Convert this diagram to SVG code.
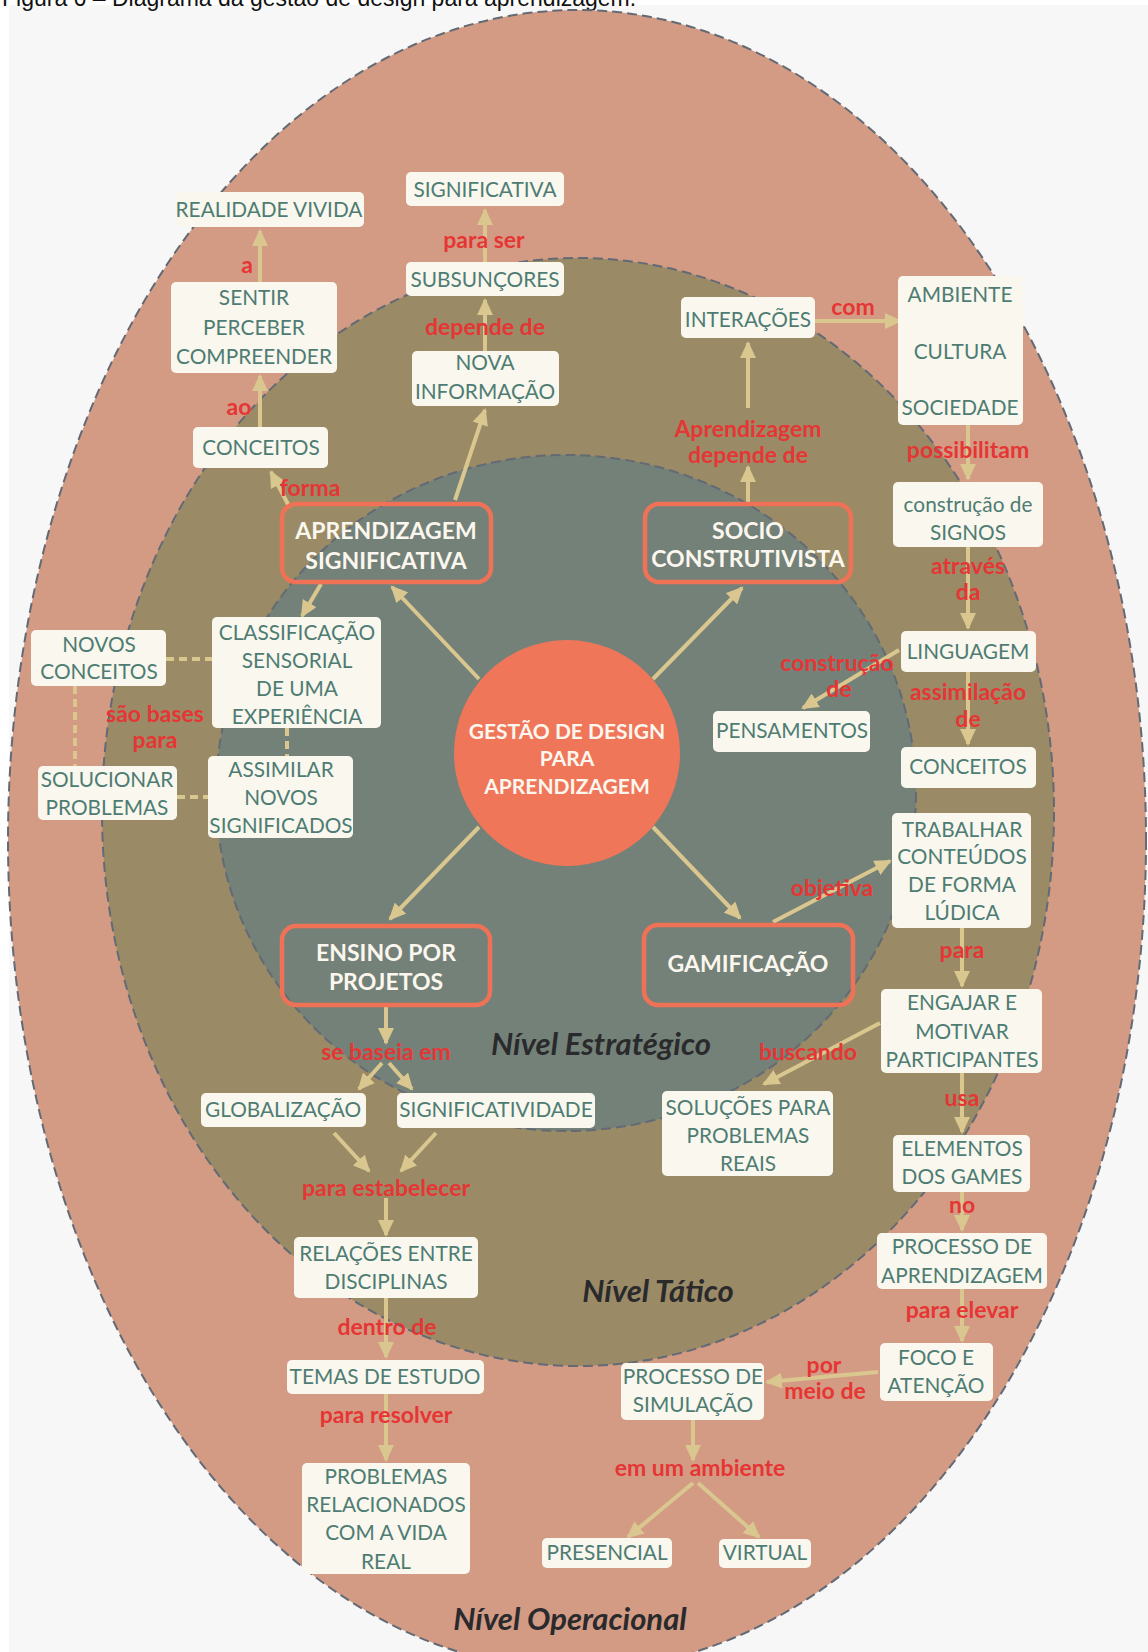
<svg xmlns="http://www.w3.org/2000/svg" width="1148" height="1652" viewBox="0 0 1148 1652">
<defs>
<style>
.box{fill:#f9f7ee}
.bt{font-family:Lato,"Open Sans",sans-serif;font-size:20.8px;fill:#4e7c73;text-anchor:middle}
.lbl{font-family:Lato,"Open Sans",sans-serif;font-weight:700;font-size:23px;fill:#e63535;text-anchor:middle}
.sbox{fill:none;stroke:#ef7257;stroke-width:4.5}
.st{font-family:Lato,"Open Sans",sans-serif;font-weight:700;font-size:23px;fill:#fbf7ef;text-anchor:middle}
.ct{font-family:Lato,"Open Sans",sans-serif;font-weight:700;font-size:21px;fill:#fbf7ef;text-anchor:middle}
.lvl{font-family:Lato,"Open Sans",sans-serif;font-weight:700;font-style:italic;font-size:31px;fill:#2a2a2d;text-anchor:middle}
.ar{stroke:#d9c78f;stroke-width:4;fill:none;marker-end:url(#ah)}
.dl{stroke:#d9c78f;stroke-width:4;stroke-dasharray:8 5;fill:none}
.ring{stroke:#636a75;stroke-width:2;stroke-dasharray:10 5}
</style>
<marker id="ah" markerUnits="userSpaceOnUse" markerWidth="18" markerHeight="16" refX="15" refY="8" orient="auto">
<path d="M0,0 L17,8 L0,16 z" fill="#d9c78f"/>
</marker>
</defs>
<rect x="0" y="0" width="1148" height="1652" fill="#ffffff"/>
<rect x="9" y="5" width="1139" height="1647" fill="#f7f7f7"/>
<text x="2" y="6" style="font-family:'Liberation Sans',Arial,sans-serif;font-size:23px;fill:#111">Figura 6 – Diagrama da gestão de design para aprendizagem.</text>

<g id="levels">
<ellipse cx="577" cy="840" rx="569" ry="830" fill="#d39b84" class="ring"/>
<ellipse cx="578" cy="812" rx="476" ry="554" fill="#9a8b66" class="ring"/>
<ellipse cx="566" cy="793" rx="350" ry="338" fill="#748178" class="ring"/>
</g>

<g id="connectors">
<line class="ar" x1="260" y1="427" x2="260" y2="376"/>
<line class="ar" x1="260" y1="282" x2="260" y2="231"/>
<line class="ar" x1="485" y1="351" x2="485" y2="300"/>
<line class="ar" x1="485" y1="262" x2="485" y2="210"/>
<line class="ar" x1="455" y1="500" x2="485" y2="410"/>
<line class="ar" x1="290" y1="508" x2="271" y2="472"/>
<line class="ar" x1="321" y1="584" x2="302" y2="616"/>
<line class="ar" x1="479" y1="679" x2="392" y2="587"/>
<line class="ar" x1="653" y1="679" x2="742" y2="588"/>
<line class="ar" x1="479" y1="827" x2="390" y2="919"/>
<line class="ar" x1="653" y1="827" x2="740" y2="918"/>
<line class="ar" x1="748" y1="503" x2="748" y2="467"/>
<line class="ar" x1="748" y1="408" x2="748" y2="343"/>
<line class="ar" x1="815" y1="321" x2="900" y2="321"/>
<line class="ar" x1="968" y1="425" x2="968" y2="479"/>
<line class="ar" x1="968" y1="547" x2="968" y2="628"/>
<line class="ar" x1="968" y1="672" x2="968" y2="744"/>
<line class="ar" x1="899" y1="650" x2="803" y2="708"/>
<line class="ar" x1="773" y1="922" x2="890" y2="861"/>
<line class="ar" x1="962" y1="928" x2="962" y2="986"/>
<line class="ar" x1="880" y1="1023" x2="764" y2="1084"/>
<line class="ar" x1="962" y1="1073" x2="962" y2="1132"/>
<line class="ar" x1="962" y1="1192" x2="962" y2="1230"/>
<line class="ar" x1="962" y1="1289" x2="962" y2="1341"/>
<line class="ar" x1="878" y1="1372" x2="767" y2="1382"/>
<line class="ar" x1="693" y1="1420" x2="693" y2="1460"/>
<line class="ar" x1="693" y1="1483" x2="628" y2="1537"/>
<line class="ar" x1="698" y1="1483" x2="759" y2="1537"/>
<line class="ar" x1="386" y1="1005" x2="386" y2="1043"/>
<line class="ar" x1="382" y1="1063" x2="359" y2="1089"/>
<line class="ar" x1="389" y1="1063" x2="412" y2="1089"/>
<line class="ar" x1="334" y1="1133" x2="369" y2="1171"/>
<line class="ar" x1="436" y1="1133" x2="401" y2="1171"/>
<line class="ar" x1="386" y1="1198" x2="386" y2="1235"/>
<line class="ar" x1="386" y1="1298" x2="386" y2="1357"/>
<line class="ar" x1="386" y1="1394" x2="386" y2="1460"/>
<line class="dl" x1="166" y1="659" x2="212" y2="659"/>
<line class="dl" x1="75" y1="686" x2="75" y2="766"/>
<line class="dl" x1="177" y1="797" x2="208" y2="797"/>
<line class="dl" x1="287" y1="728" x2="287" y2="756"/>
</g>

<g id="center">
<circle cx="567" cy="753" r="113" fill="#f0765a"/>
<text class="ct" x="567" y="739">GESTÃO DE DESIGN</text>
<text class="ct" x="567" y="766">PARA</text>
<text class="ct" x="567" y="794">APRENDIZAGEM</text>
</g>

<g id="n_aprend"><rect class="sbox" x="282" y="504" width="209" height="78" rx="14"/><text class="st" x="386" y="539">APRENDIZAGEM</text><text class="st" x="386" y="569">SIGNIFICATIVA</text></g>
<g id="n_socio"><rect class="sbox" x="645" y="504" width="206" height="78" rx="14"/><text class="st" x="748" y="539">SOCIO</text><text class="st" x="748" y="567">CONSTRUTIVISTA</text></g>
<g id="n_ensino"><rect class="sbox" x="282" y="926" width="208" height="79" rx="14"/><text class="st" x="386" y="961">ENSINO POR</text><text class="st" x="386" y="990">PROJETOS</text></g>
<g id="n_gamificacao"><rect class="sbox" x="644" y="925" width="209" height="80" rx="14"/><text class="st" x="748" y="972">GAMIFICAÇÃO</text></g>

<g id="n_realidade"><rect class="box" x="175" y="192" width="189" height="35" rx="5"/><text class="bt" x="269" y="217">REALIDADE VIVIDA</text></g>
<g id="n_significativa"><rect class="box" x="406" y="172" width="158" height="34" rx="5"/><text class="bt" x="485" y="197">SIGNIFICATIVA</text></g>
<g id="n_subsuncores"><rect class="box" x="406" y="262" width="158" height="34" rx="5"/><text class="bt" x="485" y="287">SUBSUNÇORES</text></g>
<g id="n_nova"><rect class="box" x="412" y="351" width="147" height="55" rx="5"/><text class="bt" x="485" y="370">NOVA</text><text class="bt" x="485" y="399">INFORMAÇÃO</text></g>
<g id="n_sentir"><rect class="box" x="171" y="282" width="166" height="91" rx="5"/><text class="bt" x="254" y="305">SENTIR</text><text class="bt" x="254" y="335">PERCEBER</text><text class="bt" x="254" y="364">COMPREENDER</text></g>
<g id="n_conceitos1"><rect class="box" x="193" y="427" width="135" height="41" rx="5"/><text class="bt" x="261" y="455">CONCEITOS</text></g>
<g id="n_interacoes"><rect class="box" x="681" y="297" width="134" height="41" rx="5"/><text class="bt" x="748" y="327">INTERAÇÕES</text></g>
<g id="n_ambiente"><rect class="box" x="898" y="276" width="125" height="149" rx="5"/><text class="bt" x="960" y="302">AMBIENTE</text><text class="bt" x="960" y="359">CULTURA</text><text class="bt" x="960" y="415">SOCIEDADE</text></g>
<g id="n_signos"><rect class="box" x="893" y="482" width="150" height="65" rx="5"/><text class="bt" x="968" y="512">construção de</text><text class="bt" x="968" y="540">SIGNOS</text></g>
<g id="n_linguagem"><rect class="box" x="901" y="631" width="135" height="41" rx="5"/><text class="bt" x="968" y="659">LINGUAGEM</text></g>
<g id="n_pensamentos"><rect class="box" x="713" y="711" width="157" height="41" rx="5"/><text class="bt" x="792" y="738">PENSAMENTOS</text></g>
<g id="n_conceitos2"><rect class="box" x="901" y="747" width="135" height="41" rx="5"/><text class="bt" x="968" y="774">CONCEITOS</text></g>
<g id="n_trabalhar"><rect class="box" x="892" y="813" width="139" height="115" rx="5"/><text class="bt" x="962" y="837">TRABALHAR</text><text class="bt" x="962" y="864">CONTEÚDOS</text><text class="bt" x="962" y="892">DE FORMA</text><text class="bt" x="962" y="920">LÚDICA</text></g>
<g id="n_engajar"><rect class="box" x="881" y="989" width="161" height="84" rx="5"/><text class="bt" x="962" y="1010">ENGAJAR E</text><text class="bt" x="962" y="1039">MOTIVAR</text><text class="bt" x="962" y="1067">PARTICIPANTES</text></g>
<g id="n_solucoes"><rect class="box" x="662" y="1091" width="171" height="85" rx="5"/><text class="bt" x="748" y="1115">SOLUÇÕES PARA</text><text class="bt" x="748" y="1143">PROBLEMAS</text><text class="bt" x="748" y="1171">REAIS</text></g>
<g id="n_elementos"><rect class="box" x="893" y="1135" width="137" height="57" rx="5"/><text class="bt" x="962" y="1156">ELEMENTOS</text><text class="bt" x="962" y="1184">DOS GAMES</text></g>
<g id="n_processo_ap"><rect class="box" x="877" y="1233" width="170" height="56" rx="5"/><text class="bt" x="962" y="1254">PROCESSO DE</text><text class="bt" x="962" y="1283">APRENDIZAGEM</text></g>
<g id="n_foco"><rect class="box" x="880" y="1343" width="113" height="58" rx="5"/><text class="bt" x="936" y="1365">FOCO E</text><text class="bt" x="936" y="1393">ATENÇÃO</text></g>
<g id="n_simulacao"><rect class="box" x="621" y="1363" width="143" height="57" rx="5"/><text class="bt" x="693" y="1384">PROCESSO DE</text><text class="bt" x="693" y="1412">SIMULAÇÃO</text></g>
<g id="n_presencial"><rect class="box" x="542" y="1538" width="130" height="30" rx="5"/><text class="bt" x="607" y="1560">PRESENCIAL</text></g>
<g id="n_virtual"><rect class="box" x="719" y="1539" width="92" height="29" rx="5"/><text class="bt" x="765" y="1560">VIRTUAL</text></g>
<g id="n_globalizacao"><rect class="box" x="201" y="1093" width="165" height="34" rx="5"/><text class="bt" x="283" y="1117">GLOBALIZAÇÃO</text></g>
<g id="n_significatividade"><rect class="box" x="397" y="1093" width="198" height="35" rx="5"/><text class="bt" x="496" y="1117">SIGNIFICATIVIDADE</text></g>
<g id="n_relacoes"><rect class="box" x="294" y="1237" width="184" height="61" rx="5"/><text class="bt" x="386" y="1261">RELAÇÕES ENTRE</text><text class="bt" x="386" y="1289">DISCIPLINAS</text></g>
<g id="n_temas"><rect class="box" x="287" y="1360" width="197" height="34" rx="5"/><text class="bt" x="385" y="1384">TEMAS DE ESTUDO</text></g>
<g id="n_problemas"><rect class="box" x="302" y="1463" width="168" height="111" rx="5"/><text class="bt" x="386" y="1484">PROBLEMAS</text><text class="bt" x="386" y="1512">RELACIONADOS</text><text class="bt" x="386" y="1540">COM A VIDA</text><text class="bt" x="386" y="1569">REAL</text></g>
<g id="n_novos"><rect class="box" x="31" y="630" width="135" height="56" rx="5"/><text class="bt" x="99" y="652">NOVOS</text><text class="bt" x="99" y="679">CONCEITOS</text></g>
<g id="n_solucionar"><rect class="box" x="38" y="766" width="139" height="54" rx="5"/><text class="bt" x="107" y="787">SOLUCIONAR</text><text class="bt" x="107" y="815">PROBLEMAS</text></g>
<g id="n_classif"><rect class="box" x="212" y="617" width="169" height="111" rx="5"/><text class="bt" x="297" y="640">CLASSIFICAÇÃO</text><text class="bt" x="297" y="668">SENSORIAL</text><text class="bt" x="297" y="696">DE UMA</text><text class="bt" x="297" y="724">EXPERIÊNCIA</text></g>
<g id="n_assimilar"><rect class="box" x="208" y="756" width="145" height="82" rx="5"/><text class="bt" x="281" y="777">ASSIMILAR</text><text class="bt" x="281" y="805">NOVOS</text><text class="bt" x="281" y="833">SIGNIFICADOS</text></g>

<g id="labels">
<text class="lbl" x="247" y="273">a</text>
<text class="lbl" x="484" y="248">para ser</text>
<text class="lbl" x="485" y="335">depende de</text>
<text class="lbl" x="239" y="415">ao</text>
<text class="lbl" x="310" y="496">forma</text>
<text class="lbl" x="853" y="315">com</text>
<text class="lbl" x="748" y="437">Aprendizagem</text>
<text class="lbl" x="748" y="463">depende de</text>
<text class="lbl" x="968" y="458">possibilitam</text>
<text class="lbl" x="968" y="574">através</text>
<text class="lbl" x="968" y="600">da</text>
<text class="lbl" x="837" y="671">construção</text>
<text class="lbl" x="839" y="697">de</text>
<text class="lbl" x="968" y="700">assimilação</text>
<text class="lbl" x="968" y="727">de</text>
<text class="lbl" x="832" y="896">objetiva</text>
<text class="lbl" x="962" y="958">para</text>
<text class="lbl" x="808" y="1060">buscando</text>
<text class="lbl" x="962" y="1106">usa</text>
<text class="lbl" x="962" y="1213">no</text>
<text class="lbl" x="962" y="1318">para elevar</text>
<text class="lbl" x="824" y="1373">por</text>
<text class="lbl" x="825" y="1399">meio de</text>
<text class="lbl" x="700" y="1476">em um ambiente</text>
<text class="lbl" x="386" y="1060">se baseia em</text>
<text class="lbl" x="386" y="1196">para estabelecer</text>
<text class="lbl" x="387" y="1335">dentro de</text>
<text class="lbl" x="386" y="1423">para resolver</text>
<text class="lbl" x="155" y="722">são bases</text>
<text class="lbl" x="155" y="748">para</text>
<text class="lvl" x="601" y="1055">Nível Estratégico</text>
<text class="lvl" x="658" y="1302">Nível Tático</text>
<text class="lvl" x="570" y="1630">Nível Operacional</text>
</g>
</svg>
